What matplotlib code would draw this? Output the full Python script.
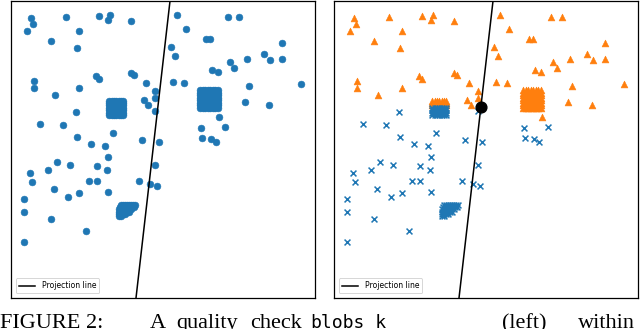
import matplotlib
matplotlib.use("Agg")
import matplotlib.pyplot as plt
from matplotlib.lines import Line2D

# ---- data (frame: x to the right, y downward) ----
pt_x = [31, 33, 27, 66, 99, 110, 108, 131, 79, 51, 77,
        177, 228, 239, 186, 206, 210, 282, 171, 175, 264, 270, 282, 247, 230, 234, 212, 218,
        34, 34, 55, 79, 96, 99, 131, 134, 146, 155, 155, 144, 148, 155,
        173, 184, 301, 249, 245, 269, 219,
        225, 201, 202, 211, 216,
        76, 40, 63, 77, 91, 105, 113, 142, 159, 108,
        57, 70, 30, 48, 97, 107, 32, 89, 97, 139, 150, 155, 157,
        54, 79, 68, 108, 24, 24, 51, 86, 24]
pt_y = [18, 24, 31, 17, 16, 15, 20, 21, 31, 41, 48,
        15, 17, 17, 29, 39, 39, 43, 47, 56, 54, 60, 59, 59, 62, 68, 70, 72,
        81, 88, 95, 88, 76, 79, 73, 75, 83, 91, 98, 100, 105, 111,
        82, 83, 84, 86, 102, 105, 117,
        127, 128, 138, 139, 142,
        112, 124, 125, 137, 144, 146, 133, 140, 142, 157,
        162, 165, 173, 170, 166, 170, 182, 181, 181, 181, 184, 165, 186,
        189, 193, 197, 192, 199, 212, 219, 231, 242]
pt_cls = [1, 1, 1, 1, 1, 1, 1, 1, 1, 1, 1,
          1, 1, 1, 1, 1, 1, 1, 1, 1, 1, 1, 1, 1, 1, 1, 1, 1,
          1, 1, 1, 1, 1, 1, 1, 1, 1, 1, 1, 1, 1, 0,
          1, 1, 1, 1, 1, 1, 1,
          0, 0, 0, 0, 0,
          0, 0, 0, 0, 0, 0, 0, 0, 0, 0,
          0, 0, 0, 0, 0, 0, 0, 0, 0, 0, 0, 0, 0,
          0, 0, 0, 0, 0, 0, 0, 0, 0]

# dense cluster A (square, centre left): 7 rows x 7 columns
ca_cols = [109, 111.5, 114, 116, 118.5, 121, 123]
ca_rows = [100.5, 102.5, 105, 107.5, 110, 112.5, 115]
ca_row_cls = [1, 1, 1, 0, 0, 0, 0]

# dense cluster B (square, right): 8 rows x 8 columns
cb_cols = [200, 202.5, 205, 207.5, 210, 212.5, 215, 217.5]
cb_rows = [90, 92.5, 95, 97.5, 100, 102.5, 105, 107.5]

# dense cluster C (tilted blob, bottom), row by row
cc_x = [121, 123, 125, 127, 129, 131, 133, 135,
        120, 122, 124, 126, 128, 130, 132, 134,
        119, 121, 123, 125, 127, 129, 131,
        119, 121, 123, 125, 127, 129,
        119, 121, 123, 125,
        119, 121]
cc_y = [204.5] * 8 + [206.5] * 8 + [209] * 7 + [211.5] * 6 + [214] * 4 + [216] * 2

proj_x = [170, 136]
proj_y = [1, 298]
cross_x = [158]
cross_y = [107]

assert len(pt_x) == len(pt_y) == len(pt_cls)
assert len(cc_x) == len(cc_y)

all_x, all_y, all_c = list(pt_x), list(pt_y), list(pt_cls)
for r, c in zip(ca_rows, ca_row_cls):
    for x in ca_cols:
        all_x.append(x); all_y.append(r); all_c.append(c)
for r in cb_rows:
    for x in cb_cols:
        all_x.append(x); all_y.append(r); all_c.append(1)
all_x += cc_x
all_y += cc_y
all_c += [0] * len(cc_x)

BLUE = "#1f77b4"
ORANGE = "#ff7f0e"

fig = plt.figure(figsize=(6.4, 3.29), dpi=100)
W, H = 640, 329
ax1 = fig.add_axes([11 / W, 31 / H, 304 / W, 297 / H])
ax2 = fig.add_axes([334 / W, 31 / H, 304 / W, 297 / H])

for ax in (ax1, ax2):
    ax.set_xlim(11, 315)
    ax.set_ylim(298, 1)
    ax.set_xticks([])
    ax.set_yticks([])
    for s in ax.spines.values():
        s.set_linewidth(0.9)
        s.set_color("black")

ax1.scatter(all_x, all_y, s=24, color=BLUE, linewidths=0.4, edgecolors=BLUE, zorder=2)

bx = [x for x, c in zip(all_x, all_c) if c == 0]
by = [y for y, c in zip(all_y, all_c) if c == 0]
ox = [x for x, c in zip(all_x, all_c) if c == 1]
oy = [y for y, c in zip(all_y, all_c) if c == 1]
ax2.scatter(ox, oy, s=24, marker="^", color=ORANGE, linewidths=0.4, edgecolors=ORANGE, zorder=2)
ax2.scatter(bx, by, s=18, marker="x", color=BLUE, linewidths=1.1, zorder=2)

for ax in (ax1, ax2):
    ax.plot(proj_x, proj_y, color="black", lw=1.1, zorder=3)
    handle = Line2D([], [], color="black", lw=1.1)
    leg = ax.legend([handle], ["Projection line"], loc="lower left", fontsize=5.5,
                    handlelength=2.2, borderaxespad=0.6, framealpha=1,
                    fancybox=True, edgecolor="#d0d0d0")
    leg.get_frame().set_linewidth(0.6)

ax2.scatter(cross_x, cross_y, s=60, color="black", zorder=4)

# caption (cut off at the bottom of the image, as in the reference)
serif = dict(family="Liberation Serif", fontsize=16, va="baseline", ha="left")
yb = 1 / H
fig.text(0 / W, yb, "FIGURE 2:", **serif)
fig.text(150 / W, yb, "A", **serif)
fig.text(176 / W, yb, "quality", **serif)
fig.text(250 / W, yb, "check", **serif)
fig.text(310 / W, yb, "blobs_k", family="DejaVu Sans Mono", fontsize=13,
         va="baseline", ha="left")
fig.text(502 / W, yb, "(left)", **serif)
fig.text(578 / W, yb, "within", **serif)

fig.savefig("out.png", dpi=100)
